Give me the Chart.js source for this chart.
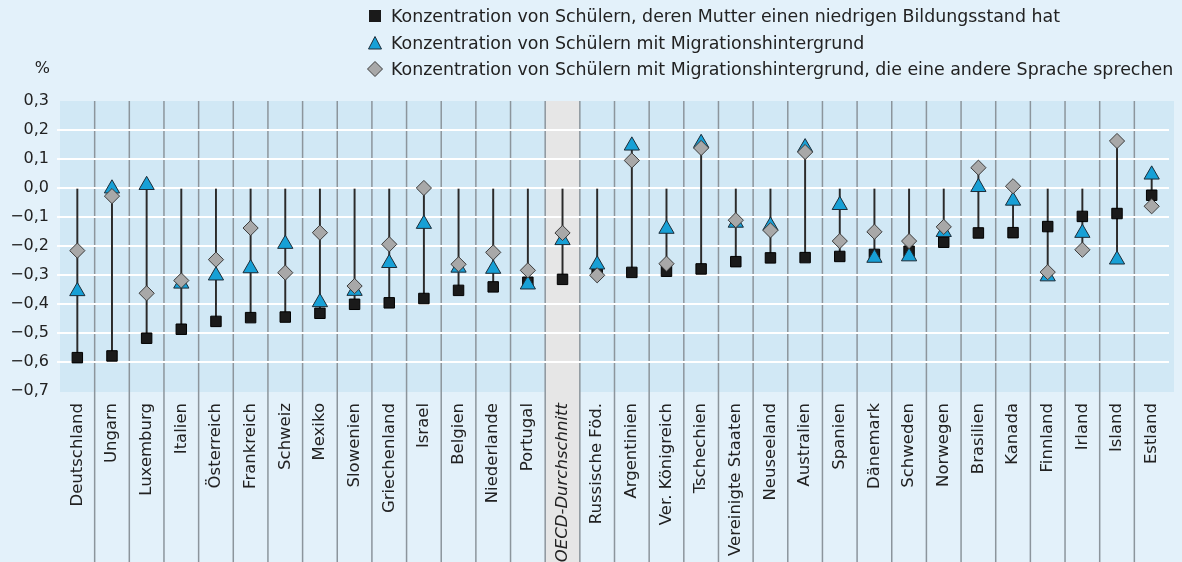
<!DOCTYPE html>
<html>
<head>
<meta charset="utf-8">
<script src="https://cdn.jsdelivr.net/npm/chart.js@4.4.1/dist/chart.umd.min.js"></script>
<style>
  html, body { margin: 0; padding: 0; background: #e3f1fa; }
  #wrap { position: relative; width: 1182px; height: 562px; overflow: hidden; }
  #chart { position: absolute; left: 0; top: 0; }
  #legend { position: absolute; left: 366px; top: 3px; font-family: "DejaVu Sans", sans-serif; font-size: 17.4px; color: #222; }
  #legend .row { height: 26.5px; display: flex; align-items: center; white-space: nowrap; }
  #legend svg { width: 18px; height: 18px; margin-right: 7px; flex: none; }
  #pct { position: absolute; right: 1132px; top: 59px; font-family: "DejaVu Sans", sans-serif; font-size: 16px; line-height: 18px; color: #222; }
</style>
</head>
<body>
<div id="wrap">
  <canvas id="chart" width="1182" height="562"></canvas>
  <div id="pct">%</div>
  <div id="legend">
    <div class="row"><svg viewBox="0 0 18 18"><rect x="3" y="3" width="12" height="12" fill="#1a1a1a"/></svg><span id="l0"></span></div>
    <div class="row"><svg viewBox="0 0 18 18"><polygon points="9,2.5 2.5,15 15.5,15" fill="#17a0d6" stroke="#1c2c38" stroke-width="1"/></svg><span id="l1"></span></div>
    <div class="row"><svg viewBox="0 0 18 18"><polygon points="9,1.5 16.5,9 9,16.5 1.5,9" fill="#a8a8a8" stroke="#3c3c3c" stroke-width="1"/></svg><span id="l2"></span></div>
  </div>
</div>
<script>
const categories = ["Deutschland","Ungarn","Luxemburg","Italien","Österreich","Frankreich","Schweiz","Mexiko","Slowenien","Griechenland","Israel","Belgien","Niederlande","Portugal","OECD-Durchschnitt","Russische Föd.","Argentinien","Ver. Königreich","Tschechien","Vereinigte Staaten","Neuseeland","Australien","Spanien","Dänemark","Schweden","Norwegen","Brasilien","Kanada","Finnland","Irland","Island","Estland"];

const seriesNames = [
  "Konzentration von Schülern, deren Mutter einen niedrigen Bildungsstand hat",
  "Konzentration von Schülern mit Migrationshintergrund",
  "Konzentration von Schülern mit Migrationshintergrund, die eine andere Sprache sprechen"
];

const motherLowEdu = [-0.585,-0.579,-0.518,-0.487,-0.460,-0.447,-0.445,-0.432,-0.401,-0.396,-0.381,-0.353,-0.341,-0.325,-0.315,-0.288,-0.291,-0.287,-0.279,-0.254,-0.241,-0.240,-0.236,-0.229,-0.218,-0.187,-0.155,-0.154,-0.133,-0.098,-0.088,-0.025];

const migration = [-0.356,-0.002,0.010,-0.330,-0.302,-0.277,-0.193,-0.394,-0.355,-0.259,-0.124,-0.275,-0.279,-0.333,-0.180,-0.264,0.146,-0.141,0.155,-0.120,-0.130,0.140,-0.059,-0.241,-0.236,-0.152,0.003,-0.044,-0.305,-0.155,-0.247,0.046];

const otherLanguage = [-0.216,-0.028,-0.363,-0.319,-0.247,-0.138,-0.292,-0.154,-0.338,-0.194,0.000,-0.263,-0.222,-0.284,-0.155,-0.301,0.095,-0.261,0.138,-0.111,-0.146,0.124,-0.183,-0.151,-0.183,-0.134,0.070,0.006,-0.290,-0.213,0.162,-0.063];

const yMin = -0.7, yMax = 0.3, yStep = 0.1;
const highlightCategory = "OECD-Durchschnitt";

document.getElementById('l0').textContent = seriesNames[0];
document.getElementById('l1').textContent = seriesNames[1];
document.getElementById('l2').textContent = seriesNames[2];

const stems = categories.map((c, i) => {
  const vals = [motherLowEdu[i], migration[i], otherLanguage[i]];
  return [Math.min(...vals), Math.max(0, ...vals)];
});

const FONT = "DejaVu Sans";
const hlIndex = categories.indexOf(highlightCategory);

const bgPlugin = {
  id: 'bg',
  beforeDraw(chart) {
    const { ctx, chartArea: a, scales: { x } } = chart;
    const W = chart.width, H = chart.height;
    ctx.save();
    ctx.fillStyle = '#e3f1fa';
    ctx.fillRect(0, 0, W, H);
    ctx.fillStyle = '#d1e8f5';
    ctx.fillRect(a.left, a.top, a.right + 5 - a.left, a.bottom - a.top + 1);
    const half = (x.getPixelForValue(1) - x.getPixelForValue(0)) / 2;
    if (hlIndex >= 0) {
      const cx = x.getPixelForValue(hlIndex);
      ctx.fillStyle = '#e6e6e6';
      ctx.fillRect(cx - half, a.top, 2 * half, H - a.top);
    }
    ctx.strokeStyle = '#8c959c';
    ctx.lineWidth = 1.5;
    for (let i = 1; i < categories.length; i++) {
      const px = x.getPixelForValue(i) - half;
      ctx.beginPath();
      ctx.moveTo(px, a.top);
      ctx.lineTo(px, H);
      ctx.stroke();
    }
    ctx.restore();
  }
};

new Chart(document.getElementById('chart'), {
  type: 'bar',
  data: {
    labels: categories,
    datasets: [
      { type: 'bar', label: 'stem', data: stems, backgroundColor: '#2a2a2a', barThickness: 1.3, grouped: false, order: 4 },
      { type: 'line', label: seriesNames[0], data: motherLowEdu, showLine: false, pointStyle: 'rect', pointRadius: 7.4, pointHoverRadius: 7.4,
        pointBackgroundColor: '#1a1a1a', pointBorderColor: '#000000', pointBorderWidth: 1, order: 3 },
      { type: 'line', label: seriesNames[1], data: migration, showLine: false, pointStyle: 'triangle', pointRadius: 8.8, pointHoverRadius: 8.8,
        pointBackgroundColor: '#17a0d6', pointBorderColor: '#1c2c38', pointBorderWidth: 1, order: 2 },
      { type: 'line', label: seriesNames[2], data: otherLanguage, showLine: false, pointStyle: 'rectRot', pointRadius: 7.6, pointHoverRadius: 7.6,
        pointBackgroundColor: '#a8a8a8', pointBorderColor: '#3c3c3c', pointBorderWidth: 1, order: 1 }
    ]
  },
  options: {
    responsive: false,
    animation: false,
    devicePixelRatio: 1,
    layout: { padding: { top: 101, right: 13, left: 0, bottom: 0 } },
    plugins: { legend: { display: false }, tooltip: { enabled: false } },
    scales: {
      x: {
        offset: true,
        grid: { display: false },
        border: { display: false },
        ticks: {
          autoSkip: false, maxRotation: 90, minRotation: 90, padding: 4, color: '#222',
          font: (c) => ({ family: FONT, size: 16.5, style: c.index === hlIndex ? 'italic' : 'normal' })
        },
        afterFit: (s) => { s.height = 171; }
      },
      y: {
        min: yMin, max: yMax,
        border: { display: false },
        grid: {
          lineWidth: 2, tickLength: 3,
          color: (c) => (c.tick && (Math.abs(c.tick.value - yMax) < 1e-6 || Math.abs(c.tick.value - yMin) < 1e-6)) ? 'rgba(0,0,0,0)' : '#ffffff'
        },
        ticks: {
          stepSize: yStep, padding: 8, color: '#222',
          font: { family: FONT, size: 16 },
          callback: (v) => Math.abs(v) < 1e-9 ? '0,0' : v.toFixed(1).replace('.', ',').replace('-', '\u2212')
        },
        afterFit: (s) => { s.width = 60; }
      }
    }
  },
  plugins: [bgPlugin]
});
</script>
</body>
</html>
